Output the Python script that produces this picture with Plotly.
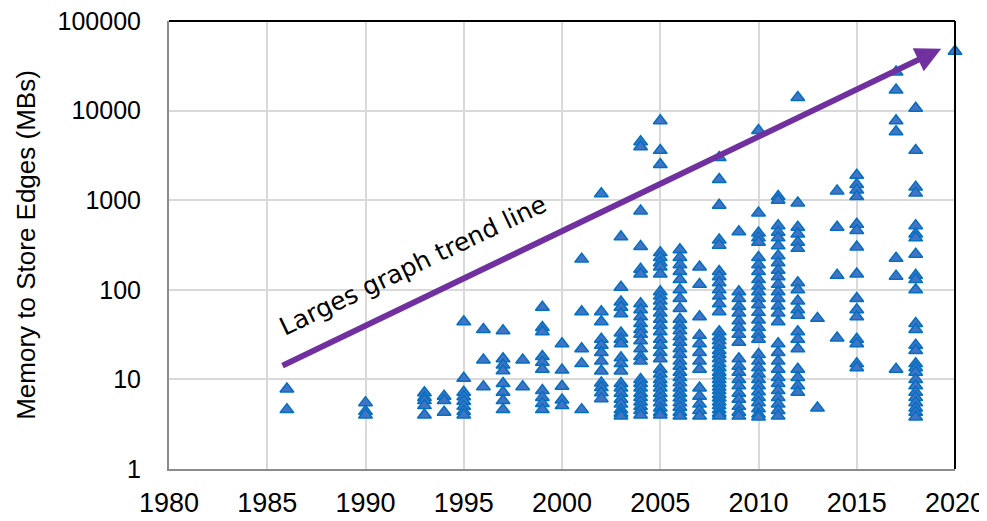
import math
import plotly.graph_objects as go

# Memory to store edges (MBs) per publication year
y1986 = [7.8, 4.6]
y1990 = [5.5, 4.4, 4.0]
y1993 = [7.1, 6.3, 5.8, 5.1, 4.0]
y1994 = [6.5, 5.8, 4.3]
y1995 = [44, 10.3, 7.2, 6.4, 5.7, 5.0, 4.4, 4.0]
y1996 = [36, 16.5, 8.3]
y1997 = [35, 17, 14.5, 12.5, 9, 7.2, 5.8, 4.6]
y1998 = [16.5, 8.3]
y1999 = [64, 38, 34, 18, 15.5, 13, 7.5, 6.3, 5.4, 4.6]
y2000 = [25, 12.7, 8.4, 5.9, 5.1]
y2001 = [220, 57, 22, 15, 4.6]
y2002 = [1180, 57, 44, 28, 24, 20, 16, 12.4, 9.1, 8.1, 7.1, 6.1]
y2003 = [390, 107, 73, 64, 54, 33, 28, 25, 17.4, 15, 12.4, 9, 8, 7, 6, 5.3, 4.6, 4.2, 3.9]
y2004 = [4500, 3950, 760, 305, 170, 150, 70, 60, 50, 42, 36, 32, 27, 22, 18, 16,
         10, 9, 8, 7, 6.3, 5.6, 5, 4.5, 4.0]
y2005 = [7700, 3600, 2500, 260, 230, 200, 180, 150, 95, 85, 75, 65, 55, 47, 40, 34,
         28, 24, 20, 17, 13, 11.5, 10, 9, 8, 7, 6.2, 5.5, 4.8, 4.3, 4.0]
y2006 = [280, 230, 190, 160, 130, 100, 80, 62, 47, 40, 35, 30, 26, 22, 19, 16, 14,
         12, 10.5, 9.2, 8, 7, 6.2, 5.5, 4.9, 4.3, 3.9]
y2007 = [180, 115, 50, 31, 25, 20, 16, 13, 8, 6.5, 5.3, 4.5, 3.9]
y2008 = [3000, 1700, 880, 360, 315, 160, 140, 120, 100, 85, 70, 57, 34, 30, 27, 24,
         21, 19, 17, 15, 13.5, 12, 11, 10, 9, 8.2, 7.5, 6.8, 6.2, 5.6, 5.1, 4.6, 4.2, 3.9]
y2009 = [445, 95, 80, 65, 55, 45, 38, 32, 26, 17, 14, 12, 10, 8.5, 7, 6, 5, 4.3, 3.9]
y2010 = [6000, 720, 430, 380, 340, 230, 190, 160, 130, 110, 95, 80, 68, 56, 46, 38,
         32, 28, 19, 16, 13.5, 11.5, 10, 8.5, 7.3, 6.3, 5.5, 4.7, 4.1, 3.8]
y2011 = [1100, 1000, 520, 440, 380, 310, 240, 200, 165, 140, 115, 95, 80, 66, 55, 44,
         25, 20, 16, 13, 10.5, 9, 7.5, 6.3, 5.3, 4.5, 3.9]
y2012 = [14000, 930, 500, 420, 340, 290, 120, 100, 75, 60, 52, 34, 28, 22, 13, 10.5, 8.5, 7.2]
y2013 = [48, 4.8]
y2014 = [1270, 500, 145, 29]
y2015 = [1900, 1500, 1300, 1100, 540, 460, 300, 150, 80, 60, 50, 28, 25, 15, 13.5]
y2017 = [27000, 17000, 7700, 5800, 225, 142, 13]
y2018 = [10600, 3600, 1400, 1200, 520, 420, 380, 250, 145, 130, 100, 42, 36, 24, 21,
         15, 13.5, 12, 10, 8.5, 7.2, 6.3, 5.5, 4.8, 4.3, 3.8]
y2020 = [46000]

years = [1986, 1990, 1993, 1994, 1995, 1996, 1997, 1998, 1999, 2000, 2001, 2002, 2003,
         2004, 2005, 2006, 2007, 2008, 2009, 2010, 2011, 2012, 2013, 2014, 2015, 2017,
         2018, 2020]
columns = [y1986, y1990, y1993, y1994, y1995, y1996, y1997, y1998, y1999, y2000, y2001,
           y2002, y2003, y2004, y2005, y2006, y2007, y2008, y2009, y2010, y2011, y2012,
           y2013, y2014, y2015, y2017, y2018, y2020]

x_ticks = [1980, 1985, 1990, 1995, 2000, 2005, 2010, 2015, 2020]
y_ticks = [1, 10, 100, 1000, 10000, 100000]

trend_start = (1985.7, 14)
trend_end = (2019.3, 49000)
trend_label = "Larges graph trend line"

xs, ys = [], []
for yr, vals in zip(years, columns):
    xs += [yr] * len(vals)
    ys += vals

fig = go.Figure()
fig.add_trace(go.Scatter(
    x=xs, y=ys, mode="markers", cliponaxis=False,
    marker=dict(symbol="triangle-up", size=12, color="#4472C4",
                line=dict(color="#0070C0", width=1.5)),
    showlegend=False,
))

fig.add_annotation(
    x=trend_end[0], y=math.log10(trend_end[1]),
    ax=trend_start[0], ay=math.log10(trend_start[1]),
    xref="x", yref="y", axref="x", ayref="y",
    text="", showarrow=True, arrowhead=2, arrowsize=0.85, arrowwidth=6,
    arrowcolor="#7030A0",
)
fig.add_annotation(
    x=1992.4, y=math.log10(185), xref="x", yref="y",
    text=trend_label, showarrow=False, textangle=-25.5,
    font=dict(family="DejaVu Sans", size=25, color="black"),
)

# top and right black frame lines
fig.add_shape(type="line", xref="paper", yref="paper", x0=0, x1=1, y0=1, y1=1,
              line=dict(color="black", width=2))
fig.add_shape(type="line", xref="paper", yref="paper", x0=1, x1=1, y0=0, y1=1,
              line=dict(color="black", width=2))

# the page body adds an 8px offset, so the figure is sized to the remaining area
fig.update_layout(
    width=979, height=513,
    margin=dict(l=161, r=32, t=13, b=52),
    paper_bgcolor="white", plot_bgcolor="white",
    font=dict(family="Liberation Sans, Arial", color="black"),
    xaxis=dict(
        range=[1980, 2020], tickvals=x_ticks, ticktext=[str(v) for v in x_ticks],
        showgrid=True, gridcolor="#d9d9d9", gridwidth=1.5,
        showline=True, linecolor="#8c8c8c", linewidth=2,
        ticks="", tickfont=dict(size=27), ticklabelstandoff=9,
        zeroline=False, automargin=False, ticklabeloverflow="allow",
    ),
    yaxis=dict(
        type="log", range=[0, 5], tickvals=y_ticks, ticktext=[str(v) for v in y_ticks],
        showgrid=True, gridcolor="#d9d9d9", gridwidth=1.5,
        showline=True, linecolor="#8c8c8c", linewidth=2,
        ticks="", tickfont=dict(size=25), ticklabelstandoff=21,
        title=dict(text="Memory to Store Edges (MBs)", font=dict(size=26), standoff=14),
        automargin=False, zeroline=False, ticklabeloverflow="allow",
    ),
)

fig.write_html("out.html")
